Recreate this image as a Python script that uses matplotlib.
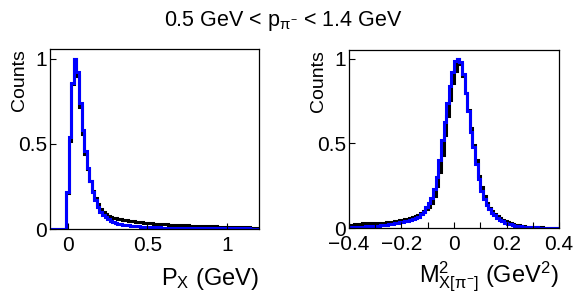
import numpy as np
import matplotlib
matplotlib.use("Agg")
import matplotlib.pyplot as plt

plt.rcParams['font.family'] = ['Liberation Sans', 'DejaVu Sans']
plt.rcParams['mathtext.fontset'] = 'custom'
plt.rcParams['mathtext.rm'] = 'Liberation Sans'
plt.rcParams['mathtext.it'] = 'Liberation Sans:italic'
plt.rcParams['mathtext.default'] = 'regular'

# P_X histogram, bins of 0.016 GeV starting at -0.12 (first 7 bins empty)
px_edges = -0.12 + 0.016 * np.arange(84)
px_blue = [0, 0, 0, 0, 0, 0, 0,
           0.22, 0.54, 0.86, 1.00, 0.92, 0.74, 0.58, 0.46, 0.36, 0.28,
           0.22, 0.17, 0.13, 0.10, 0.085, 0.070, 0.058, 0.048, 0.041, 0.035,
           0.031, 0.028, 0.025, 0.023, 0.021, 0.019, 0.017, 0.016, 0.015, 0.014,
           0.013, 0.012, 0.011, 0.010, 0.010, 0.009, 0.009, 0.008,
           0.008, 0.008, 0.008, 0.007, 0.007, 0.007, 0.007,
           0.007, 0.006, 0.006, 0.006, 0.006, 0.006,
           0.006, 0.005, 0.005, 0.005, 0.005, 0.005,
           0.005, 0.004, 0.004, 0.004, 0.004, 0.004,
           0.004, 0.004, 0.003, 0.003, 0.003, 0.003, 0.003,
           0.003, 0.003, 0.002, 0.002, 0.002, 0.002]
px_black = [0, 0, 0, 0, 0, 0, 0,
            0.21, 0.52, 0.85, 1.00, 0.90, 0.72, 0.56, 0.44, 0.35, 0.28,
            0.225, 0.18, 0.145, 0.12, 0.10, 0.088, 0.079, 0.072, 0.067, 0.063,
            0.060, 0.057, 0.055, 0.052, 0.050, 0.048, 0.046, 0.044, 0.042, 0.040,
            0.038, 0.036, 0.035, 0.033, 0.032, 0.031, 0.030, 0.029, 0.028, 0.027,
            0.026, 0.025, 0.024, 0.023, 0.022, 0.022, 0.021, 0.021, 0.020, 0.019,
            0.019, 0.018, 0.018, 0.017, 0.017, 0.016, 0.016, 0.015, 0.015, 0.014,
            0.014, 0.013, 0.013, 0.012, 0.012, 0.011, 0.011, 0.011, 0.010, 0.010,
            0.009, 0.009, 0.008, 0.008, 0.007, 0.007]

# missing mass squared, bins of 0.01 GeV^2 from -0.4 to 0.4
mm_edges = -0.4 + 0.01 * np.arange(81)
mm_blue = [0.004, 0.005, 0.005, 0.006, 0.007, 0.008, 0.009, 0.010, 0.011, 0.012,
           0.013, 0.014, 0.016, 0.018, 0.020, 0.022, 0.025, 0.027, 0.030, 0.033,
           0.036, 0.039, 0.043, 0.047, 0.052, 0.058, 0.066, 0.080, 0.092, 0.125,
           0.150, 0.180, 0.23, 0.30, 0.40, 0.52, 0.63, 0.74, 0.84, 0.92,
           0.99, 1.00, 0.98, 0.91, 0.80, 0.69, 0.57, 0.48, 0.38, 0.29,
           0.22, 0.17, 0.135, 0.11, 0.09, 0.075, 0.062, 0.05, 0.04, 0.032,
           0.026, 0.021, 0.017, 0.014, 0.011, 0.009, 0.007, 0.006, 0.005, 0.005,
           0.004, 0.004, 0.003, 0.003, 0.003, 0.003, 0.002, 0.002, 0.002, 0.002]
mm_black = [0.018, 0.020, 0.022, 0.024, 0.026, 0.027, 0.028, 0.029, 0.030, 0.030,
            0.031, 0.031, 0.031, 0.032, 0.033, 0.035, 0.037, 0.040, 0.042, 0.045,
            0.048, 0.052, 0.056, 0.060, 0.064, 0.070, 0.078, 0.088, 0.098, 0.110,
            0.125, 0.150, 0.19, 0.25, 0.33, 0.43, 0.55, 0.66, 0.76, 0.86,
            0.93, 1.00, 0.97, 0.90, 0.80, 0.70, 0.59, 0.49, 0.40, 0.31,
            0.24, 0.19, 0.15, 0.12, 0.10, 0.085, 0.072, 0.060, 0.050, 0.040,
            0.033, 0.027, 0.022, 0.018, 0.015, 0.012, 0.010, 0.008, 0.007, 0.006,
            0.005, 0.005, 0.004, 0.004, 0.003, 0.003, 0.003, 0.002, 0.002, 0.002]

fig = plt.figure(figsize=(5.74, 2.93), dpi=100)
ax1 = fig.add_axes([0.0871, 0.2184, 0.3641, 0.6143])
ax2 = fig.add_axes([0.608, 0.2218, 0.3659, 0.6075])


def style(ax):
    for s in ax.spines.values():
        s.set_linewidth(0.9)
    ax.tick_params(direction='in', length=4, width=0.8, labelsize=15, pad=2)
    ax.tick_params(axis='x', pad=5)
    ax.tick_params(which='minor', direction='in', length=4, width=0.8)
    ax.set_yticks([0, 0.5, 1])
    ax.set_yticklabels(['0', '0.5', '1'])
    ax.set_ylabel('Counts', fontsize=14, loc='top')
    ax.yaxis.set_label_coords(-0.105, 1.0)


ax1.stairs(px_black, px_edges, color='black', lw=2.2)
ax1.stairs(px_blue, px_edges, color='blue', lw=2.2)
ax1.set_xlim(-0.11, 1.2)
ax1.set_ylim(0, 1.058)
style(ax1)
ax1.set_xticks([0, 0.5, 1])
ax1.set_xticklabels(['0', '0.5', '1'])
ax1.set_xlabel('P$_{X}$ (GeV)', fontsize=17, loc='right', labelpad=8)

ax2.stairs(mm_black, mm_edges, color='black', lw=2.2)
ax2.stairs(mm_blue, mm_edges, color='blue', lw=2.2)
ax2.set_xlim(-0.4, 0.4)
ax2.set_ylim(0, 1.053)
style(ax2)
ax2.set_xticks([-0.4, -0.2, 0, 0.2, 0.4])
ax2.set_xticklabels(['\u22120.4', '\u22120.2', '0', '0.2', '0.4'])
ax2.set_xticks([-0.3, -0.1, 0.1, 0.3], minor=True)
ax2.set_xlabel('M$^{2}_{X[\\pi^{-}]}$ (GeV$^{2}$)', fontsize=17, loc='right', labelpad=4)

fig.text(0.493, 0.928, '0.5 GeV < p$_{\\pi^{-}}$ < 1.4 GeV', fontsize=15.5,
         ha='center', va='center')

fig.savefig('out.png', dpi=100)
